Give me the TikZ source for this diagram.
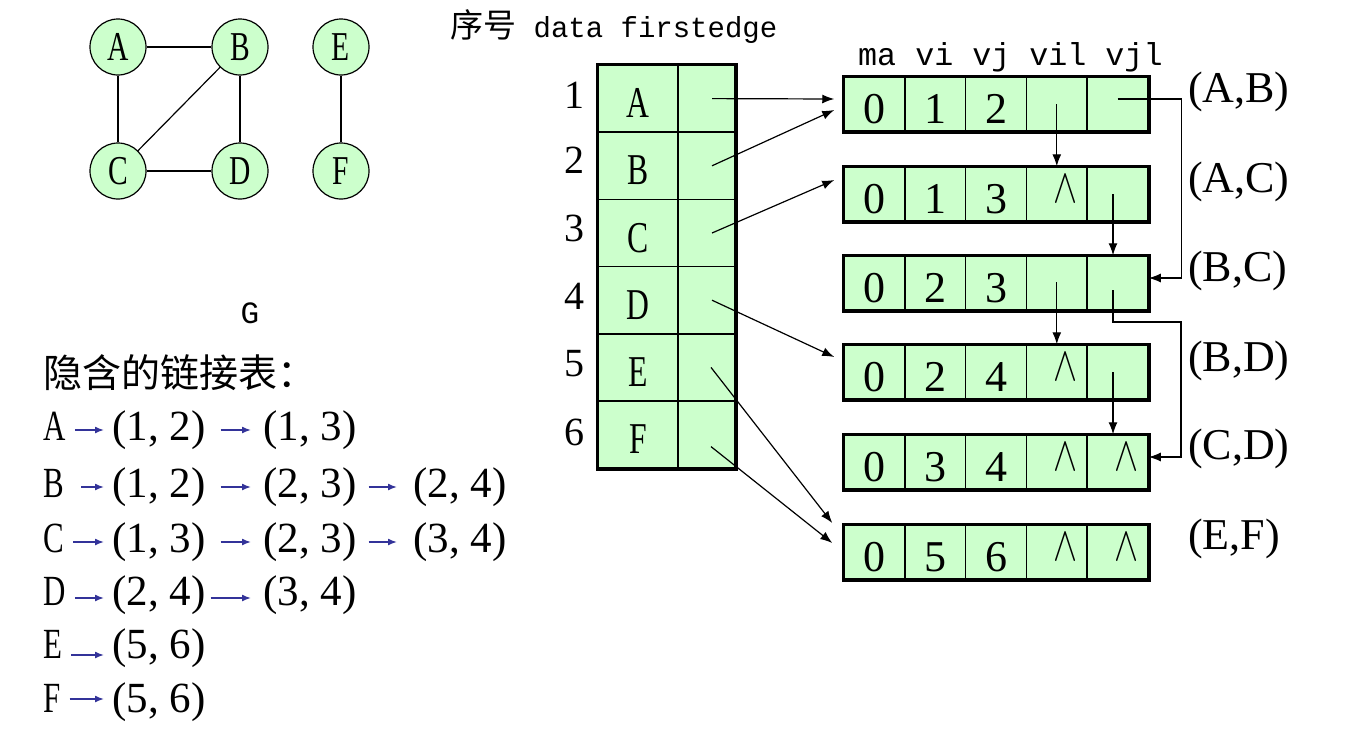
\documentclass[tikz,border=0pt]{standalone}
\usepackage{fontspec}
\usepackage{graphicx}
\setmainfont{Liberation Serif}
\newfontfamily\cjk{Noto Sans CJK SC}
\newfontfamily\mono{Liberation Mono}
\usetikzlibrary{arrows.meta}
\definecolor{cellgreen}{HTML}{CCFFCC}
\definecolor{arrowblue}{HTML}{333399}
\newcommand\cn[1]{\scalebox{0.72}[1]{#1}}
\newcommand\nulmark{\raisebox{11pt}{\hspace*{18pt}\scalebox{1.45}[1.95]{\Huge$\wedge$}}}
\newcommand\tsp{\hspace{0.25em}}
\tikzset{
  gv/.style={circle, draw, line width=1.2pt, fill=cellgreen, minimum size=56pt, inner sep=0pt,
    text height=27pt, text depth=0pt, font=\fontsize{41}{41}\selectfont},
  ge/.style={line width=1.2pt},
  lt/.style={anchor=west, inner sep=0pt, text height=30pt, text depth=10pt, font=\fontsize{43}{43}\selectfont},
  barrow/.style={draw=arrowblue, line width=1.5pt, -{Latex[length=9pt,width=7pt]}, arrowblue},
  tcell/.style={rectangle, draw, line width=1.5pt, fill=cellgreen, minimum width=80pt, minimum height=67.2pt,
    inner sep=0pt, text height=38pt, text depth=0pt, font=\fontsize{44}{44}\selectfont},
  pcell/.style={tcell, minimum width=57pt},
  ecell/.style={rectangle, draw, line width=1.5pt, fill=cellgreen, minimum width=60.8pt, minimum height=54pt,
    inner sep=0pt, text height=38pt, text depth=0pt, font=\fontsize{44}{44}\selectfont},
  thickbox/.style={line width=3.5pt},
  num/.style={inner sep=0pt, font=\fontsize{40}{40}\selectfont},
  lab/.style={anchor=west, inner sep=0pt, text height=30pt, text depth=10pt, font=\fontsize{44}{44}\selectfont},
  ptr/.style={line width=1.2pt, -{Latex[length=12pt,width=9pt]}},
}
\begin{document}
\begin{tikzpicture}[x=1pt,y=-1pt]
\useasboundingbox (0,0) rectangle (1355,731);

% ---------- graph ----------
\node[gv] (A) at (118,47) {\cn{A}};
\node[gv] (B) at (240,47) {\cn{B}};
\node[gv] (E) at (341,47) {\cn{E}};
\node[gv] (C) at (118,171) {\cn{C}};
\node[gv] (D) at (240,171) {\cn{D}};
\node[gv] (F) at (341,171) {\cn{F}};
\draw[ge] (A) -- (B);
\draw[ge] (A) -- (C);
\draw[ge] (B) -- (D);
\draw[ge] (C) -- (D);
\draw[ge] (B) -- (C);
\draw[ge] (E) -- (F);
\node[inner sep=0pt, font=\mono\fontsize{31}{31}\selectfont] (G) at (250,313) {G};

% ---------- implicit lists ----------
\node[anchor=west, inner sep=0pt, font=\cjk\fontsize{39}{39}\selectfont] (title) at (43,373) {隐含的链接表：};

\node[lt] (rA) at (43,430) {\cn{A}};
\node[lt] (rA1) at (112,430) {(1,\tsp2)};
\node[lt] (rA2) at (263,430) {(1,\tsp3)};
\draw[barrow] ([xshift=9pt]rA.east) -- ([xshift=-8pt]rA1.west);
\draw[barrow] ([xshift=15pt]rA1.east) -- ([xshift=-12pt]rA2.west);

\node[lt] (rB) at (43,487) {\cn{B}};
\node[lt] (rB1) at (112,487) {(1,\tsp2)};
\node[lt] (rB2) at (263,487) {(2,\tsp3)};
\node[lt] (rB3) at (413,487) {(2,\tsp4)};
\draw[barrow] ([xshift=17pt]rB.east) -- ([xshift=-8pt]rB1.west);
\draw[barrow] ([xshift=15pt]rB1.east) -- ([xshift=-12pt]rB2.west);
\draw[barrow] ([xshift=12pt]rB2.east) -- ([xshift=-16pt]rB3.west);

\node[lt] (rC) at (43,542) {\cn{C}};
\node[lt] (rC1) at (112,542) {(1,\tsp3)};
\node[lt] (rC2) at (263,542) {(2,\tsp3)};
\node[lt] (rC3) at (413,542) {(3,\tsp4)};
\draw[barrow] ([xshift=9pt]rC.east) -- ([xshift=-8pt]rC1.west);
\draw[barrow] ([xshift=15pt]rC1.east) -- ([xshift=-12pt]rC2.west);
\draw[barrow] ([xshift=12pt]rC2.east) -- ([xshift=-16pt]rC3.west);

\node[lt] (rD) at (43,595) {\cn{D}};
\node[lt] (rD1) at (112,595) {(2,\tsp4)};
\node[lt] (rD2) at (263,595) {(3,\tsp4)};
\draw[barrow] ([xshift=9pt,yshift=-3pt]rD.east) -- ([xshift=-8pt,yshift=-3pt]rD1.west);
\draw[barrow] ([xshift=5pt,yshift=-3pt]rD1.east) -- ([xshift=-12pt,yshift=-3pt]rD2.west);

\node[lt] (rE) at (43,648) {\cn{E}};
\node[lt] (rE1) at (112,648) {(5,\tsp6)};
\draw[barrow] ([xshift=9pt,yshift=-7pt]rE.east) -- ([xshift=-8pt,yshift=-7pt]rE1.west);

\node[lt] (rF) at (43,702) {\cn{F}};
\node[lt] (rF1) at (112,702) {(5,\tsp6)};
\draw[barrow] ([xshift=9pt,yshift=3pt]rF.east) -- ([xshift=-8pt,yshift=3pt]rF1.west);

% ---------- vertex table ----------
\node[anchor=base west, inner sep=0pt] (head) at (450,37)
  {{\cjk\fontsize{33}{33}\selectfont 序号}{\mono\fontsize{29}{29}\selectfont\ data firstedge}};

\foreach \l/\y/\ny [count=\i] in {A/98.6/95, B/165.8/160, C/233/228, D/300.2/296, E/367.4/364, F/434.6/432} {
  \node[tcell] (d\l) at (638,\y) {\cn{\l}};
  \node[pcell] (p\l) at (706.5,\y) {};
  \node[num] (n\i) at (574,\ny) {\i};
}
\draw[thickbox] (dA.north west) rectangle (pF.south east);

\coordinate (sA) at ([xshift=5.5pt]pA.center);
\coordinate (sB) at ([xshift=5.5pt]pB.center);
\coordinate (sC) at ([xshift=5.5pt]pC.center);
\coordinate (sD) at ([xshift=5.5pt]pD.center);
\coordinate (sE) at ([xshift=4.5pt]pE.center);
\coordinate (sF) at ([xshift=4.5pt,yshift=-12pt]pF.center);

% ---------- edge nodes ----------
\node[anchor=base west, inner sep=0pt, font=\mono\fontsize{31.7}{31.7}\selectfont] (cols) at (858,65) {ma vi vj vil vjl};

\foreach \k/\y/\a/\b/\c/\d/\e in {1/104/0/1/2//, 2/194/0/1/3/\nulmark/, 3/283/0/2/3//, 4/372/0/2/4/\nulmark/, 5/462/0/3/4/\nulmark/\nulmark, 6/552/0/5/6/\nulmark/\nulmark} {
  \node[ecell] (e\k c1) at (874.4,\y) {\a};
  \node[ecell] (e\k c2) at (935.2,\y) {\b};
  \node[ecell] (e\k c3) at (996,\y) {\c};
  \node[ecell] (e\k c4) at (1056.8,\y) {\d};
  \node[ecell] (e\k c5) at (1117.6,\y) {\e};
  \draw[thickbox] (e\k c1.north west) rectangle (e\k c5.south east);
}

\node[lab] (l1) at (1188,92) {(A,B)};
\node[lab] (l2) at (1188,182) {(A,C)};
\node[lab] (l3) at (1188,271) {(B,C)};
\node[lab] (l4) at (1188,361) {(B,D)};
\node[lab] (l5) at (1188,449) {(C,D)};
\node[lab] (l6) at (1188,539) {(E,F)};

% ---------- pointers from table ----------
\draw[ptr] (sA) -- ([xshift=-9pt,yshift=5pt]e1c1.west);
\draw[ptr] (sB) -- ([xshift=-9pt,yshift=-6pt]e1c1.west);
\draw[ptr] (sC) -- ([xshift=-9pt,yshift=14pt]e2c1.west);
\draw[ptr] (sD) -- ([xshift=-9pt,yshift=15pt]e4c1.west);
\draw[ptr] (sE) -- ([xshift=-11pt,yshift=29pt]e6c1.west);
\draw[ptr] (sF) -- ([xshift=-11pt,yshift=9pt]e6c1.west);

% ---------- pointers between edge nodes ----------
\draw[ptr] (e1c4.center) -- (e2c4.north);
\draw[ptr] ([yshift=5pt]e1c5.center) -- ++(64,0) |- ([yshift=5pt]e3c5.east);
\draw[ptr] ([xshift=-4.6pt]e2c5.center) -- ([xshift=-4.6pt]e3c5.north);
\draw[ptr] ([yshift=1pt]e3c4.center) -- (e4c4.north);
\draw[ptr] ([xshift=-4.6pt,yshift=-7pt]e3c5.center) -- ++(0,32) -- ++(68,0) |- ([yshift=5pt]e5c5.east);
\draw[ptr] ([xshift=-4.6pt]e4c5.center) -- ([xshift=-4.6pt]e5c5.north);
\end{tikzpicture}
\end{document}
